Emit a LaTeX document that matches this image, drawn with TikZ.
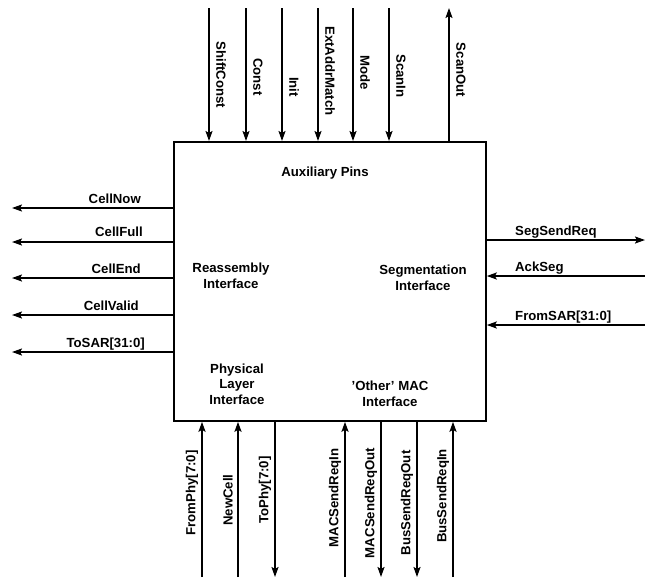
\documentclass[tikz,border=0pt]{standalone}
\usepackage{fontspec}
\setmainfont{Liberation Sans}
\usetikzlibrary{arrows.meta}
\begin{document}
\begin{tikzpicture}[x=1pt,y=-1pt,
  sig/.style={line width=1.8pt},
  tip/.style={sig,-{Stealth[length=10pt,width=7pt,inset=2pt]}},
  lbl/.style={font=\bfseries\fontsize{13.2}{14}\selectfont, inner sep=0pt},
  inner/.style={font=\bfseries\fontsize{13.2}{15.5}\selectfont, align=center, inner sep=0pt}]
\useasboundingbox (0,0) rectangle (645,579);
\node[draw, line width=1.8pt, minimum width=312pt, minimum height=279pt, anchor=north west, inner sep=0pt] (blk) at (173,141) {};
% top
\coordinate (t1) at (209,8);
\coordinate (t2) at (246,8);
\coordinate (t3) at (282,8);
\coordinate (t4) at (318,8);
\coordinate (t5) at (353,8);
\coordinate (t6) at (389,8);
\coordinate (t7) at (449,8);
\foreach \c in {t1,t2,t3,t4,t5,t6} \draw[tip] (\c) -- (\c |- blk.north);
\draw[tip] (t7 |- blk.north) -- (t7);
\node[lbl, rotate=-90] (n1) at (221,75) {ShiftConst};
\node[lbl, rotate=-90] (n2) at (258,77) {Const};
\node[lbl, rotate=-90] (n3) at (294,87) {Init};
\node[lbl, rotate=-90] (n4) at (330,71) {ExtAddrMatch};
\node[lbl, rotate=-90] (n5) at (365,73) {Mode};
\node[lbl, rotate=-90] (n6) at (401,76) {ScanIn};
\node[lbl, rotate=-90] (n7) at (461,70) {ScanOut};
% left
\coordinate (l1) at (12,208);
\coordinate (l2) at (12,242);
\coordinate (l3) at (12,278);
\coordinate (l4) at (12,315);
\coordinate (l5) at (12,352);
\foreach \c in {l1,l2,l3,l4,l5} \draw[tip] (\c -| blk.west) -- (\c);
\node[lbl, anchor=base east] (m1) at (141,203) {CellNow};
\node[lbl, anchor=base east] (m2) at (143,236) {CellFull};
\node[lbl, anchor=base east] (m3) at (141,273) {CellEnd};
\node[lbl, anchor=base east] (m4) at (139,310) {CellValid};
\node[lbl, anchor=base east] (m5) at (145,347) {ToSAR[31:0]};
% right
\coordinate (r1) at (645,240);
\coordinate (r2) at (645,276);
\coordinate (r3) at (645,325);
\draw[tip] (r1 -| blk.east) -- (r1);
\draw[tip] (r2) -- (r2 -| blk.east);
\draw[tip] (r3) -- (r3 -| blk.east);
\node[lbl, anchor=base west] (s1) at (515,235) {SegSendReq};
\node[lbl, anchor=base west] (s2) at (515,271) {AckSeg};
\node[lbl, anchor=base west] (s3) at (515,320) {FromSAR[31:0]};
% bottom
\coordinate (b1) at (202,577);
\coordinate (b2) at (238,577);
\coordinate (b3) at (275,577);
\coordinate (b4) at (345,577);
\coordinate (b5) at (381,577);
\coordinate (b6) at (417,577);
\coordinate (b7) at (453,577);
\foreach \c in {b1,b2,b4,b7} \draw[tip] (\c) -- (\c |- blk.south);
\foreach \c in {b3,b5,b6} \draw[tip] (\c |- blk.south) -- (\c);
\node[lbl, rotate=90] (p1) at (192,493) {FromPhy[7:0]};
\node[lbl, rotate=90] (p2) at (228,500) {NewCell};
\node[lbl, rotate=90] (p3) at (265,490) {ToPhy[7:0]};
\node[lbl, rotate=90] (p4) at (335,498) {MACSendReqIn};
\node[lbl, rotate=90] (p5) at (371,503) {MACSendReqOut};
\node[lbl, rotate=90] (p6) at (407,503) {BusSendReqOut};
\node[lbl, rotate=90] (p7) at (443,496) {BusSendReqIn};
% inner texts
\node[inner] (aux) at (325,173) {Auxiliary Pins};
\node[inner] (reas) at (231,276) {Reassembly\\Interface};
\node[inner] (seg) at (423,278) {Segmentation\\Interface};
\node[inner] (phy) at (237,384) {Physical\\Layer\\Interface};
\node[inner] (mac) at (390,394) {'Other' MAC\\Interface};
\end{tikzpicture}
\end{document}
